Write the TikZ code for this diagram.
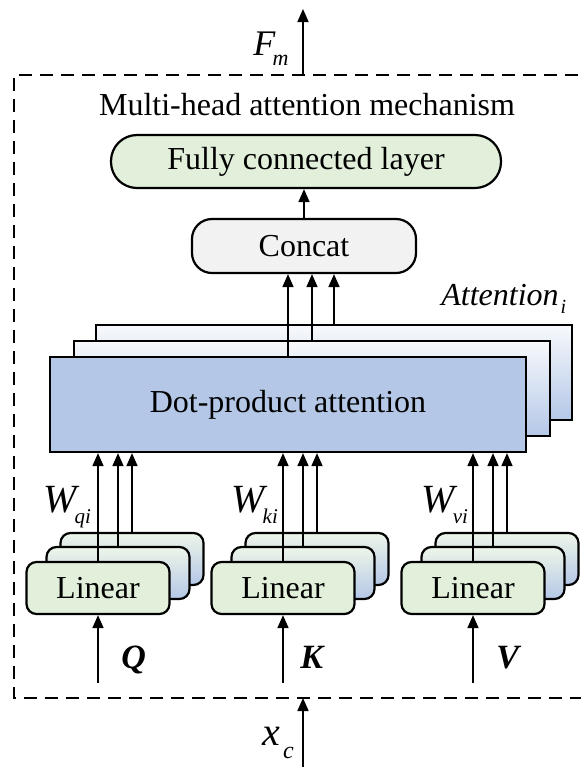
\documentclass[tikz,border=0pt]{standalone}
\usepackage{fontspec}
\setmainfont{Liberation Serif}
\usetikzlibrary{arrows.meta,calc}

\definecolor{fcgreen}{HTML}{E2EFDA}
\definecolor{catgray}{HTML}{F2F2F2}
\definecolor{dpblue}{HTML}{B4C7E7}
\definecolor{dpfade}{HTML}{F7F9FC}

% label with a lowered index: base size, base text, index size, index, drop, kern
\newcommand{\idxlabel}[6]{{\fontsize{#1}{#1}\selectfont\textit{#2}}\kern#6{\raisebox{-#5}{\fontsize{#3}{#3}\selectfont\textit{#4}}}}

\tikzset{
  box/.style={draw=black, line width=1.1pt, inner sep=0pt, font=\fontsize{16}{19}\selectfont},
  pill/.style={box, fill=fcgreen, rounded corners=13pt, minimum width=195pt, minimum height=26.5pt},
  catbox/.style={box, fill=catgray, rounded corners=10pt, minimum width=112pt, minimum height=27pt},
  dpfront/.style={box, fill=dpblue, minimum width=238pt, minimum height=47.5pt},
  dpback/.style={box, minimum width=238pt, minimum height=47.5pt, top color=dpfade, bottom color=dpblue},
  linfront/.style={box, fill=fcgreen, rounded corners=5pt, minimum width=71.5pt, minimum height=26pt},
  linback/.style={box, rounded corners=5pt, minimum width=71.5pt, minimum height=26pt, top color=fcgreen!60!white, bottom color=dpblue},
  flow/.style={line width=0.85pt, -{Triangle[length=6.5pt,width=5.5pt]}},
  lbl/.style={inner sep=0pt, anchor=base west},
  frame/.style={line width=1pt, dash pattern=on 6.5pt off 4pt},
}

\begin{document}
\begin{tikzpicture}[x=0.5pt, y=-0.5pt]
\useasboundingbox (0,0) rectangle (581,767);

% outer dashed frame (open past the right edge)
\coordinate (frtr) at (620,75);
\coordinate (frtl) at (14,75);
\coordinate (frbl) at (14,698);
\coordinate (frbr) at (620,698);
\draw[frame] (frtr) -- (frtl) -- (frbl) -- (frbr);

\node[anchor=base, inner sep=0pt, font=\fontsize{16}{19}\selectfont] (title) at (307,115) {Multi-head attention mechanism};

% output layer and concatenation
\node[pill] (fc) at (306,161.5) {Fully connected layer};
\node[catbox] (concat) at (304,246) {Concat};

% stacked attention heads
\node[dpback] (dp3) at (334,372.5) {};
\node[dpback] (dp2) at (312,388.5) {};
\node[dpfront] (dp1) at (288,404.5) {Dot-product attention};

% stacked linear projections for Q, K, V
\foreach \g/\cx in {q/98, k/283, v/473} {
  \node[linback] (l\g3) at (\cx+34,559) {};
  \node[linback] (l\g2) at (\cx+20,573) {};
  \node[linfront] (l\g1) at (\cx,588) {Linear};
}

% projections into the attention block
\foreach \g in {q,k,v} {
  \foreach \n in {1,2,3} {
    \draw[flow] (l\g\n.north) -- (l\g\n.north |- dp1.south);
  }
}

% heads into concat, concat into output layer
\foreach \n in {1,2,3} {
  \draw[flow] (dp\n.north) -- (dp\n.north |- concat.south);
}
\draw[flow] (concat.north) -- (concat.north |- fc.south);

% inputs
\coordinate (qin) at (98,683);
\coordinate (kin) at (283,683);
\coordinate (vin) at (473,683);
\draw[flow] (qin) -- (lq1.south);
\draw[flow] (kin) -- (lk1.south);
\draw[flow] (vin) -- (lv1.south);

\node[lbl, font=\fontsize{17}{17}\selectfont\bfseries\itshape] (qlab) at (121,668) {Q};
\node[lbl, font=\fontsize{17}{17}\selectfont\bfseries\itshape] (klab) at (300,668) {K};
\node[lbl, font=\fontsize{17}{17}\selectfont\bfseries\itshape] (vlab) at (496,668) {V};

% weight labels
\node[lbl] (wq) at (43,512) {\idxlabel{20}{W}{10.5}{qi}{5.5pt}{-2.5pt}};
\node[lbl] (wk) at (231,512) {\idxlabel{20}{W}{10.5}{ki}{5.5pt}{-2.5pt}};
\node[lbl] (wv) at (421,512) {\idxlabel{20}{W}{10.5}{vi}{5.5pt}{-2.5pt}};

\node[lbl] (attlab) at (441,305) {\idxlabel{16}{Attention}{10}{i}{4pt}{1pt}};

% module input and output
\coordinate (fmfoot) at (303,75);
\coordinate (fmhead) at (303,9);
\draw[flow] (fmfoot) -- (fmhead);
\node[lbl] (fmlab) at (253,55) {\idxlabel{18}{F}{11}{m}{5pt}{-1.5pt}};

\coordinate (xcfoot) at (303,767);
\coordinate (xchead) at (303,698);
\draw[flow] (xcfoot) -- (xchead);
\node[lbl] (xclab) at (262,745) {\idxlabel{20}{x}{12}{c}{6.5pt}{1.5pt}};
\end{tikzpicture}
\end{document}
